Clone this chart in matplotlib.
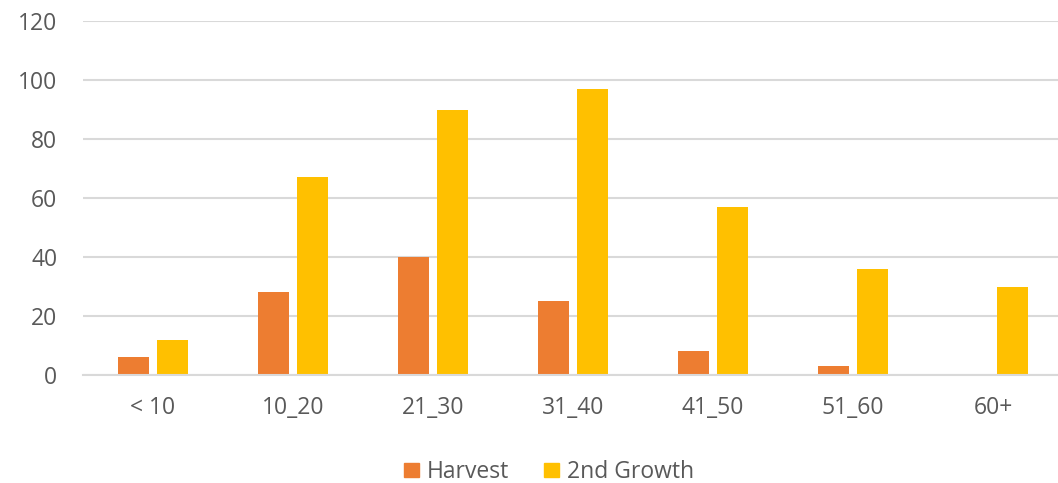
import matplotlib
matplotlib.use("Agg")
import matplotlib.pyplot as plt
import numpy as np
from matplotlib.patches import Patch

categories = ["< 10", "10_20", "21_30", "31_40", "41_50", "51_60", "60+"]
harvest = [6, 28, 40, 25, 8, 3, 0]
second_growth = [12, 67, 90, 97, 57, 36, 30]
yticks = [0, 20, 40, 60, 80, 100, 120]

plt.rcParams['font.family'] = ['Open Sans', 'DejaVu Sans']
txt = '#595959'

fig = plt.figure(figsize=(10.58, 4.83), dpi=100)
ax = fig.add_axes([83/1058, 1 - 375/483, 980/1058, (375-21)/483])

x = np.arange(len(categories))
w = 0.221
off = 0.142
ax.bar(x - off, harvest, w, color='#ED7D31', zorder=3, label='Harvest')
ax.bar(x + off, second_growth, w, color='#FFC000', zorder=3, label='2nd Growth')

ax.set_xlim(-0.5, len(categories) - 0.5)
ax.set_ylim(0, 120)
ax.set_yticks(yticks)
ax.set_yticklabels([str(v) for v in yticks])
ax.set_xticks(x)
ax.set_xticklabels(categories)
ax.yaxis.grid(True, color='#D9D9D9', linewidth=1.5, zorder=0)
ax.set_axisbelow(True)
for s in ['top', 'right', 'left']:
    ax.spines[s].set_visible(False)
ax.spines['bottom'].set_color('#D9D9D9')
ax.spines['bottom'].set_linewidth(1.5)
ax.spines['bottom'].set_zorder(4)
ax.tick_params(axis='both', length=0, labelsize=16.5, labelcolor=txt)
ax.tick_params(axis='y', pad=18.5)
ax.tick_params(axis='x', pad=15)

handles = [Patch(color='#ED7D31'), Patch(color='#FFC000')]
fig.legend(handles, ['Harvest', '2nd Growth'], loc='center', bbox_to_anchor=(549/1058, 1 - 472/483),
           ncol=2, frameon=False, fontsize=16.5, labelcolor=txt,
           handlelength=0.62, handleheight=0.62, handletextpad=0.35, columnspacing=1.55)

fig.savefig('out.png', dpi=100)
